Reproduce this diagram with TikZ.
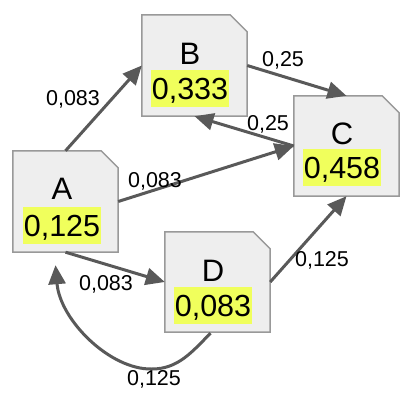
\documentclass[tikz,border=0pt]{standalone}
\usepackage{fontspec}
\setmainfont{Liberation Sans}
\usetikzlibrary{arrows.meta,calc}
\definecolor{cardfill}{HTML}{EEEEEE}
\definecolor{cardline}{HTML}{999999}
\definecolor{edgecol}{HTML}{595959}
\definecolor{hl}{HTML}{F0FF5C}
\begin{document}
\begin{tikzpicture}[x=1pt,y=-1pt,
  card/.style={rectangle, minimum width=105pt, minimum height=101pt, inner sep=0pt},
  cardshape/.style={fill=cardfill, draw=cardline, line width=1.5pt},
  letter/.style={font=\fontsize{31}{36}\selectfont, inner sep=0pt, text height=22.3pt, text depth=0pt},
  value/.style={font=\fontsize{30.5}{36}\selectfont, fill=hl, inner xsep=1pt, inner ysep=0pt, minimum height=37pt, text height=22pt, text depth=0pt},
  conn/.style={draw=edgecol, line width=3pt, -{Triangle[length=19pt,width=17pt]}},
  elabel/.style={font=\fontsize{21.5}{26}\selectfont, inner sep=0pt, text height=15.5pt, text depth=0pt}]
\useasboundingbox (0,0) rectangle (412,404);
% cards
\node[card] (A) at (65.5,201.5) {};
\node[card] (B) at (194.5,65.5) {};
\node[card, minimum height=100pt] (C) at (346.5,146) {};
\node[card, minimum height=100pt] (D) at (217.5,282) {};
\foreach \n in {A,B,C,D}
  \draw[cardshape] (\n.north west) -- ($(\n.north east)+(-17,0)$) -- ($(\n.north east)+(0,17)$) -- (\n.south east) -- (\n.south west) -- cycle;
% texts
\node[letter] (Aname) at (62,188) {A};
\node[value] (Aval) at (62,225) {0,125};
\node[letter] (Bname) at (190,53) {B};
\node[value] (Bval) at (190,88.5) {0,333};
\node[letter] (Cname) at (342,133) {C};
\node[value] (Cval) at (342,167) {0,458};
\node[letter] (Dname) at (213,270) {D};
\node[value] (Dval) at (213,305) {0,083};
% connectors
\draw[conn] (A.north) -- (B.west);
\draw[conn] (B.east) -- (C.north);
\draw[conn] (C.west) -- (B.south);
\draw[conn] (A.east) -- (C.west);
\draw[conn] (A.south) -- (D.west);
\draw[conn] (D.east) -- (C.south);
\coordinate (loopbot) at (152,369);
\draw[conn] ($(D.south)+(-7,1)$) .. controls (192,352) and (178,369) .. (loopbot)
  .. controls (110,370) and (60,320) .. ($(A.south)+(-10,13)$);
% edge labels
\node[elabel] (lAB) at (73,98) {0,083};
\node[elabel] (lBC) at (283,59) {0,25};
\node[elabel] (lCB) at (268,123) {0,25};
\node[elabel] (lAC) at (155,180) {0,083};
\node[elabel] (lAD) at (106,283) {0,083};
\node[elabel] (lDC) at (322,259) {0,125};
\node[elabel] (lDA) at (154,378) {0,125};
\end{tikzpicture}
\end{document}
